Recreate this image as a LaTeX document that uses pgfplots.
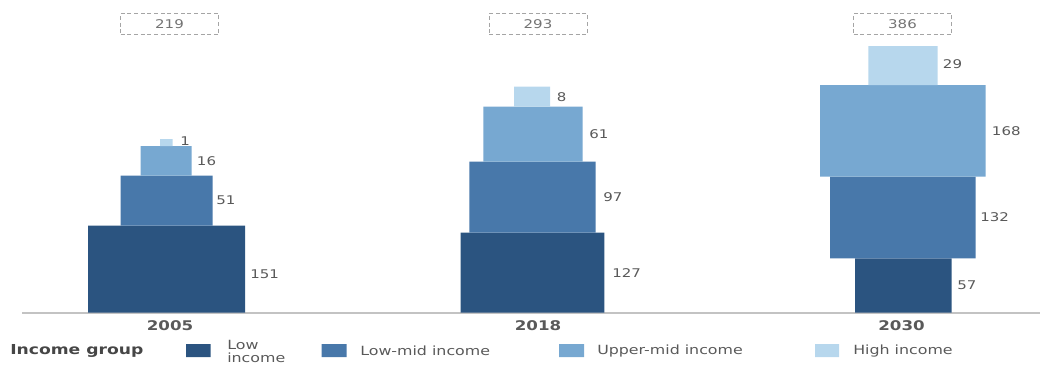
\documentclass[border=0pt]{standalone}
\usepackage{pgfplots}
\pgfplotsset{compat=1.18}
\usepackage{fontspec}
\setmainfont[FakeStretch=1.25]{DejaVu Sans}
\definecolor{lowc}{RGB}{43,84,128}
\definecolor{lmidc}{RGB}{72,120,170}
\definecolor{umidc}{RGB}{119,168,209}
\definecolor{highc}{RGB}{183,215,237}
\definecolor{labc}{RGB}{89,89,89}
\definecolor{totc}{RGB}{115,115,115}
\definecolor{legc}{RGB}{70,70,70}
\definecolor{basec}{RGB}{195,195,195}
\definecolor{boxc}{RGB}{165,165,165}
\begin{document}
\begin{tikzpicture}
\begin{axis}[
  name=ax,
  scale only axis, width=780pt, height=273.75pt,
  xmin=0, xmax=1040, ymin=0, ymax=365, y dir=reverse,
  hide axis, clip=false,
]
% baseline
\addplot[draw=basec, line width=0.8pt] coordinates {(22,313) (1040,313)};
% ---- 2005: 151, 51, 16, 1
\addplot[fill=lowc, draw=none]  coordinates {(88,312.7) (245,312.7) (245,225.7) (88,225.7) (88,312.7)};
\addplot[fill=lmidc, draw=none] coordinates {(120.7,225.7) (212.7,225.7) (212.7,175.7) (120.7,175.7) (120.7,225.7)};
\addplot[fill=umidc, draw=none] coordinates {(140.7,175.7) (191.7,175.7) (191.7,146) (140.7,146) (140.7,175.7)};
\addplot[fill=highc, draw=none] coordinates {(160,146) (172.7,146) (172.7,139) (160,139) (160,146)};
% ---- 2018: 127, 97, 61, 8
\addplot[fill=lowc, draw=none]  coordinates {(460.7,312.7) (604.3,312.7) (604.3,232.7) (460.7,232.7) (460.7,312.7)};
\addplot[fill=lmidc, draw=none] coordinates {(469.3,232.7) (595.7,232.7) (595.7,161.7) (469.3,161.7) (469.3,232.7)};
\addplot[fill=umidc, draw=none] coordinates {(483.3,161.7) (582.7,161.7) (582.7,106.7) (483.3,106.7) (483.3,161.7)};
\addplot[fill=highc, draw=none] coordinates {(514,106.7) (550,106.7) (550,86.7) (514,86.7) (514,106.7)};
% ---- 2030: 57, 132, 168, 29
\addplot[fill=lowc, draw=none]  coordinates {(855,312.7) (951.7,312.7) (951.7,258.3) (855,258.3) (855,312.7)};
\addplot[fill=lmidc, draw=none] coordinates {(830,258.3) (975.7,258.3) (975.7,176.7) (830,176.7) (830,258.3)};
\addplot[fill=umidc, draw=none] coordinates {(820,176.7) (985.7,176.7) (985.7,85) (820,85) (820,176.7)};
\addplot[fill=highc, draw=none] coordinates {(868.3,85) (937.7,85) (937.7,46) (868.3,46) (868.3,85)};
% value labels
\addplot[draw=none, nodes near coords, point meta=explicit symbolic, nodes near coords align={anchor=west},
  every node near coord/.style={anchor=west, inner sep=0pt, text=labc, font=\fontsize{9}{10}\selectfont}]
  coordinates {(250,274)[151] (216,200.7)[51] (196.7,161)[16] (180,141)[1]
               (612,272.7)[127] (603,197.2)[97] (589,134.2)[61] (556.7,96.7)[8]
               (957,285.5)[57] (980,217.5)[132] (991.7,130.8)[168] (942.7,64)[29]};
% totals
\addplot[draw=none, nodes near coords, point meta=explicit symbolic, nodes near coords align={anchor=center},
  every node near coord/.style={anchor=center, inner sep=0pt, text=totc, draw=boxc,
    densely dashed, line width=0.5pt, minimum width=73.5pt, minimum height=16pt, font=\fontsize{9}{10}\selectfont}]
  coordinates {(169.5,24)[219] (538,24)[293] (902.5,24)[386]};
% year labels
\addplot[draw=none, nodes near coords, point meta=explicit symbolic, nodes near coords align={anchor=center},
  every node near coord/.style={anchor=center, inner sep=0pt, text=labc, font=\bfseries\fontsize{10}{12}\selectfont}]
  coordinates {(170,326)[2005] (538,326)[2018] (901.5,326)[2030]};
% legend
\addplot[fill=lowc, draw=none]  coordinates {(186,344) (210.7,344) (210.7,357) (186,357) (186,344)};
\addplot[fill=lmidc, draw=none] coordinates {(321.7,344) (346.7,344) (346.7,357) (321.7,357) (321.7,344)};
\addplot[fill=umidc, draw=none] coordinates {(559,344) (584,344) (584,357) (559,357) (559,344)};
\addplot[fill=highc, draw=none] coordinates {(815,344) (839,344) (839,357) (815,357) (815,344)};
\node[anchor=west, inner sep=0pt, text=legc, font=\bfseries\fontsize{10.3}{12}\selectfont] at (axis cs:10,351) {Income group};
\node[anchor=north west, inner sep=0pt, align=left, text=labc, font=\fontsize{9.5}{10.4}\selectfont] at (axis cs:227,339.5) {Low\\income};
\node[anchor=west, inner sep=0pt, text=labc, font=\fontsize{9.5}{11.5}\selectfont] at (axis cs:360,350.5) {Low-mid income};
\node[anchor=west, inner sep=0pt, text=labc, font=\fontsize{9.5}{11.5}\selectfont] at (axis cs:597,350.5) {Upper-mid income};
\node[anchor=west, inner sep=0pt, text=labc, font=\fontsize{9.5}{11.5}\selectfont] at (axis cs:853,350.5) {High income};
\end{axis}
\pgfresetboundingbox
\path[use as bounding box] (ax.south west) rectangle (ax.north east);
\end{tikzpicture}
\end{document}
